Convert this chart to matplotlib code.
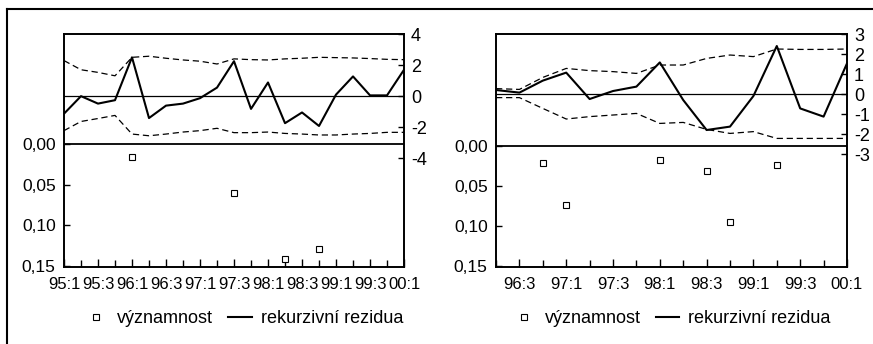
import numpy as np
import matplotlib
matplotlib.use("Agg")
import matplotlib.pyplot as plt
from matplotlib.lines import Line2D

plt.rcParams['font.family'] = ['Liberation Sans', 'DejaVu Sans']
plt.rcParams['font.size'] = 11

# levy graf
left_quarters = ["95:1", "95:2", "95:3", "95:4", "96:1", "96:2", "96:3", "96:4",
                 "97:1", "97:2", "97:3", "97:4", "98:1", "98:2", "98:3", "98:4",
                 "99:1", "99:2", "99:3", "99:4", "00:1"]
left_resid = [-1.13, 0.0, -0.48, -0.26, 2.5, -1.41, -0.61, -0.48, -0.13, 0.55, 2.25,
              -0.82, 0.88, -1.74, -1.05, -1.92, 0.1, 1.27, 0.05, 0.05, 1.7]
left_upper = [2.29, 1.7, 1.53, 1.31, 2.5, 2.57, 2.44, 2.33, 2.25, 2.07, 2.4,
              2.35, 2.33, 2.4, 2.44, 2.5, 2.48, 2.46, 2.42, 2.37, 2.35]
left_lower = [-2.22, -1.63, -1.44, -1.24, -2.44, -2.55, -2.44, -2.31, -2.22, -2.07, -2.35,
              -2.35, -2.31, -2.4, -2.44, -2.5, -2.5, -2.44, -2.4, -2.33, -2.33]
left_sig_q = ["96:1", "97:3", "98:2", "98:4"]
left_sig = [0.0164, 0.0598, 0.1417, 0.1286]
left_rticks = [-4, -2, 0, 2, 4]

# pravy graf
right_quarters = ["96:2", "96:3", "96:4", "97:1", "97:2", "97:3", "97:4", "98:1",
                  "98:2", "98:3", "98:4", "99:1", "99:2", "99:3", "99:4", "00:1"]
right_resid = [0.2, 0.07, 0.67, 1.07, -0.25, 0.15, 0.37, 1.58,
               -0.3, -1.8, -1.63, -0.1, 2.4, -0.72, -1.13, 1.53]
right_upper = [0.27, 0.23, 0.83, 1.28, 1.17, 1.12, 1.03, 1.45,
               1.45, 1.78, 1.95, 1.87, 2.25, 2.23, 2.23, 2.25]
right_lower = [-0.18, -0.18, -0.72, -1.25, -1.13, -1.05, -0.97, -1.47,
               -1.42, -1.77, -1.97, -1.88, -2.22, -2.22, -2.22, -2.22]
right_sig_q = ["96:4", "97:1", "98:1", "98:3", "98:4", "99:2"]
right_sig = [0.0211, 0.0736, 0.0178, 0.031, 0.095, 0.0244]
right_rticks = [-3, -2, -1, 0, 1, 2, 3]

left_yticks = [0.0, 0.05, 0.10, 0.15]
left_ylabels = ["0,00", "0,05", "0,10", "0,15"]


def panel(ax, quarters, resid, upper, lower, sig_q, sig, rlim, rticks, ltop, first_lab, leg_x):
    x = np.arange(len(quarters))
    ax.set_xlim(0, len(quarters) - 1)
    ax.set_ylim(0.151, ltop)
    ax.set_yticks(left_yticks)
    ax.set_yticklabels(left_ylabels, fontsize=12.5)
    ax.set_xticks(x[first_lab::2])
    ax.set_xticklabels(quarters[first_lab::2], fontsize=12)
    ax.set_xticks(x, minor=True)
    ax.tick_params(axis='x', which='major', direction='in', length=6, width=1, pad=7)
    ax.tick_params(axis='x', which='minor', direction='in', length=5, width=1)
    ax.tick_params(axis='y', direction='in', length=4, width=1, pad=6)
    ax.axhline(0, color='k', lw=1.3)
    idx = [quarters.index(q) for q in sig_q]
    ax.plot(idx, sig, ls='none', marker='s', ms=4, mfc='white', mec='k', mew=0.8)

    ax2 = ax.twinx()
    ax2.set_ylim(*rlim)
    ax2.set_yticks(rticks)
    ax2.set_yticklabels([str(t) for t in rticks])
    ax2.tick_params(axis='y', direction='in', length=4, width=1, pad=5, labelsize=13)
    ax2.axhline(0, color='k', lw=0.9)
    ax2.plot(x, upper, color='k', lw=0.9, ls='--', dashes=(5, 3))
    ax2.plot(x, lower, color='k', lw=0.9, ls='--', dashes=(5, 3))
    ax2.plot(x, resid, color='k', lw=1.5)
    for a in (ax, ax2):
        for s in a.spines.values():
            s.set_linewidth(1.2)

    handles = [Line2D([], [], ls='none', marker='s', ms=4, mfc='white', mec='k', mew=0.8),
               Line2D([], [], color='k', lw=1.5)]
    ax.legend(handles, ["významnost", "rekurzivní rezidua"], loc='center',
              bbox_to_anchor=(leg_x, 0.073),
              bbox_transform=ax.figure.transFigure, ncol=2, frameon=False,
              handlelength=1.3, handletextpad=0.5, columnspacing=0.85, fontsize=13)


fig = plt.figure(figsize=(8.73, 3.44), dpi=100)
ax_l = fig.add_axes([0.0733, 0.2238, 0.3895, 0.6773])
ax_r = fig.add_axes([0.5682, 0.2238, 0.402, 0.6773])

panel(ax_l, left_quarters, left_resid, left_upper, left_lower, left_sig_q, left_sig,
      (-11.0, 4.0), left_rticks, -0.135, 0, 0.279)
panel(ax_r, right_quarters, right_resid, right_upper, right_lower, right_sig_q, right_sig,
      (-8.65, 3.0), right_rticks, -0.139, 1, 0.769)

# ramecek kolem obrazku
fig.add_artist(Line2D([0.008, 1.0], [0.974, 0.974], color='k', lw=1.5, transform=fig.transFigure))
fig.add_artist(Line2D([0.008, 0.008], [0.0, 0.974], color='k', lw=1.5, transform=fig.transFigure))

fig.savefig("out.png", dpi=100)
